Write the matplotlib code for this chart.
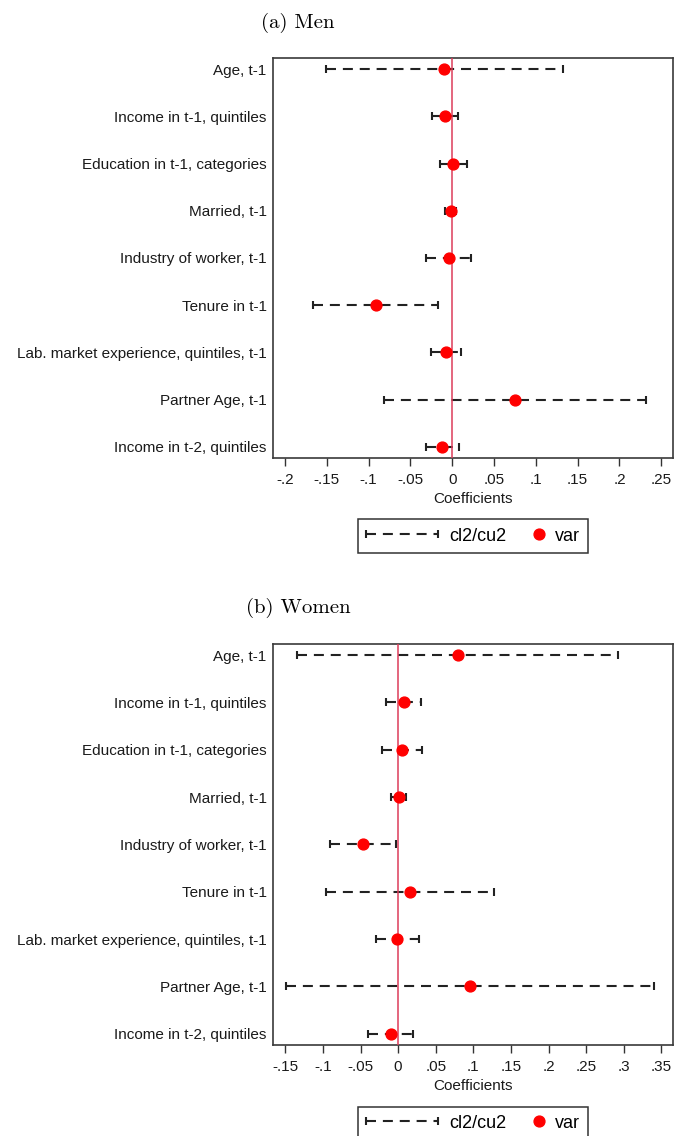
import numpy as np
import matplotlib
matplotlib.use('Agg')
import matplotlib.pyplot as plt
from matplotlib.container import ErrorbarContainer
from matplotlib.legend_handler import HandlerErrorbar, HandlerLine2D
from matplotlib.lines import Line2D

plt.rcParams['font.family'] = ['Liberation Sans', 'DejaVu Sans']

labels = ['Age, t-1', 'Income in t-1, quintiles', 'Education in t-1, categories',
          'Married, t-1', 'Industry of worker, t-1', 'Tenure in t-1',
          'Lab. market experience, quintiles, t-1', 'Partner Age, t-1',
          'Income in t-2, quintiles']

# men: point estimate, lower and upper bound
men_coef = [-0.010, -0.009, 0.001, -0.002, -0.004, -0.091, -0.008, 0.075, -0.012]
men_lo = [-0.151, -0.024, -0.015, -0.009, -0.031, -0.166, -0.025, -0.082, -0.031]
men_hi = [0.132, 0.007, 0.018, 0.004, 0.022, -0.017, 0.010, 0.232, 0.008]

# women
women_coef = [0.079, 0.0075, 0.0057, 0.001, -0.0465, 0.016, -0.001, 0.096, -0.010]
women_lo = [-0.135, -0.016, -0.021, -0.009, -0.091, -0.096, -0.030, -0.149, -0.040]
women_hi = [0.292, 0.030, 0.032, 0.011, -0.003, 0.127, 0.028, 0.340, 0.020]

men_ticks = [-0.2, -0.15, -0.1, -0.05, 0, 0.05, 0.1, 0.15, 0.2, 0.25]
men_ticklabels = ['-.2', '-.15', '-.1', '-.05', '0', '.05', '.1', '.15', '.2', '.25']
women_ticks = [-0.15, -0.1, -0.05, 0, 0.05, 0.1, 0.15, 0.2, 0.25, 0.3, 0.35]
women_ticklabels = ['-.15', '-.1', '-.05', '0', '.05', '.1', '.15', '.2', '.25', '.3', '.35']


class DotHandler(HandlerLine2D):
    # narrower handle box for the dot entry
    def legend_artist(self, legend, orig_handle, fontsize, handlebox):
        handlebox.width = 0.6 * fontsize
        return super().legend_artist(legend, orig_handle, fontsize, handlebox)


def draw_panel(ax, coef, lo, hi, ticks, ticklabels, xlim):
    y = np.arange(1, len(labels) + 1)
    coef = np.array(coef)
    err = [coef - np.array(lo), np.array(hi) - coef]
    eb = ax.errorbar(coef, y, xerr=err, fmt='none', ecolor='#222222', elinewidth=1.5,
                     capsize=2.7, capthick=1.5, zorder=2)
    eb.lines[2][0].set_linestyle((0, (4.8, 3.3)))
    ax.axvline(0, color='#dc3c5a', lw=1.1, zorder=3)
    dots, = ax.plot(coef, y, 'o', color='red', ms=7.8, zorder=4)

    ax.set_xlim(xlim)
    ax.set_ylim(9.24, 0.765)
    ax.set_yticks(y)
    ax.set_yticklabels(labels, fontsize=11, color='#1a1a1a')
    ax.tick_params(axis='y', length=0, pad=4.5)
    ax.set_xticks(ticks)
    ax.set_xticklabels(ticklabels, fontsize=11, color='#1a1a1a')
    ax.tick_params(axis='x', direction='out', length=5.5, width=1, color='#333333', pad=5)
    ax.set_xlabel('Coefficients', fontsize=11, color='#1a1a1a', labelpad=4)
    for s in ax.spines.values():
        s.set_color('#3a3a3a')
        s.set_linewidth(1.2)

    leg = ax.legend([eb, dots], ['cl2/cu2', 'var'],
                    handler_map={ErrorbarContainer: HandlerErrorbar(xerr_size=2.0),
                                 Line2D: DotHandler(numpoints=1)},
                    ncol=2, loc='center', bbox_to_anchor=(0.5, -0.195),
                    fontsize=13, handlelength=4, handletextpad=0.6, columnspacing=1.5,
                    borderpad=0.45, fancybox=False, framealpha=1, edgecolor='#333333')
    leg.get_frame().set_linewidth(1.1)


fig = plt.figure(figsize=(6.74, 11.36), dpi=100)
ax1 = fig.add_axes([0.405, 0.5968, 0.5935, 0.3521])
ax2 = fig.add_axes([0.405, 0.0801, 0.5935, 0.353])

draw_panel(ax1, men_coef, men_lo, men_hi, men_ticks, men_ticklabels, (-0.2144, 0.264))
draw_panel(ax2, women_coef, women_lo, women_hi, women_ticks, women_ticklabels, (-0.1664, 0.3655))

fig.text(0.442, 0.98, '(a) Men', family='cmr10', fontsize=15, ha='center', va='center')
fig.text(0.443, 0.4648, '(b) Women', family='cmr10', fontsize=15, ha='center', va='center')

fig.savefig('out.png', dpi=100)
